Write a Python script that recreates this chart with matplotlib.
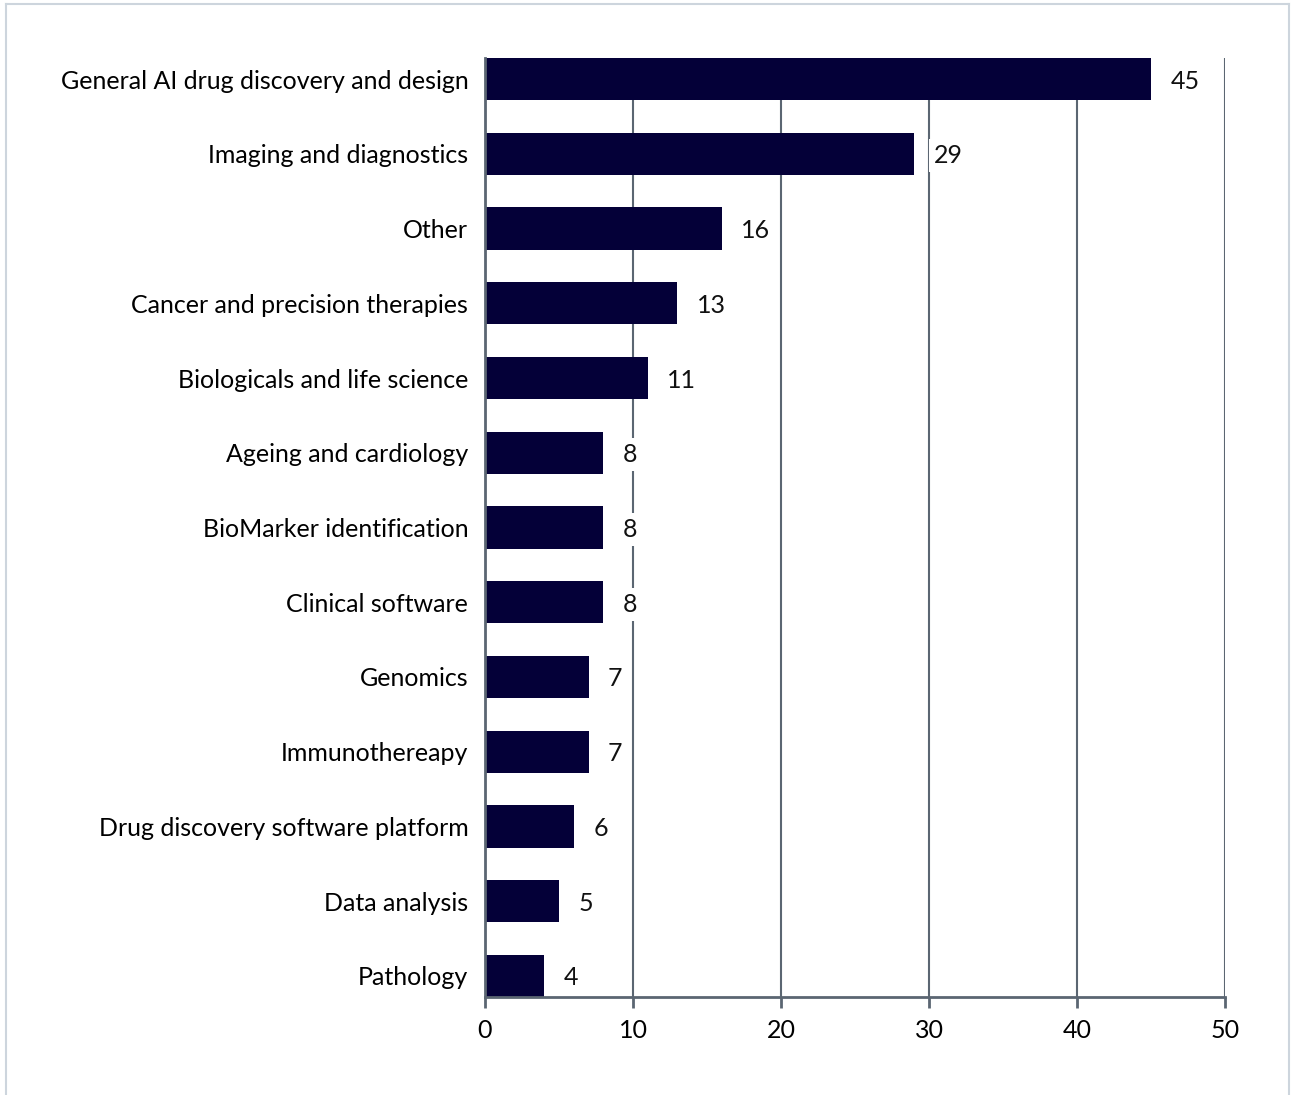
import matplotlib
matplotlib.use("Agg")
import matplotlib.pyplot as plt
from matplotlib.lines import Line2D

categories = [
    "General AI drug discovery and design",
    "Imaging and diagnostics",
    "Other",
    "Cancer and precision therapies",
    "Biologicals and life science",
    "Ageing and cardiology",
    "BioMarker identification",
    "Clinical software",
    "Genomics",
    "Immunothereapy",
    "Drug discovery software platform",
    "Data analysis",
    "Pathology",
]
values = [45, 29, 16, 13, 11, 8, 8, 8, 7, 7, 6, 5, 4]
xticks = [0, 10, 20, 30, 40, 50]

plt.rcParams['font.family'] = ['Lato', 'DejaVu Sans']

W, H = 1292, 1095
fig = plt.figure(figsize=(W / 100, H / 100), dpi=100)
ax = fig.add_axes([485 / W, 1 - 997 / H, (1225 - 485) / W, (997 - 58) / H])

bar_color = '#040038'
grid_color = '#5b6672'
bh = 0.562
ypos = list(range(len(categories)))
ax.barh(ypos, values, height=bh, color=bar_color, zorder=2)
ax.set_ylim(len(categories) - 1 + bh / 2, -bh / 2)
ax.set_xlim(0, 50)
ax.set_xticks(xticks)
ax.set_xticklabels([str(t) for t in xticks], fontsize=18)
ax.set_yticks(ypos)
ax.set_yticklabels(categories, fontsize=18)
ax.tick_params(axis='y', length=0, pad=12)
ax.tick_params(axis='x', length=8, width=2, color=grid_color, pad=8)
ax.xaxis.grid(True, color=grid_color, linewidth=1.5, zorder=1)
ax.set_axisbelow(True)
for s in ['top', 'right']:
    ax.spines[s].set_visible(False)
for s in ['left', 'bottom']:
    ax.spines[s].set_color(grid_color)
    ax.spines[s].set_linewidth(2)
    ax.spines[s].set_zorder(3)

for y, v in zip(ypos, values):
    ax.annotate(str(v), (v, y), xytext=(14, 0), textcoords='offset points',
                ha='left', va='center_baseline', fontsize=18, color='#111111', zorder=4,
                bbox=dict(boxstyle='square,pad=0.2', fc='white', ec='none'))

bc = '#cdd5dd'
fig.add_artist(Line2D([6 / W, 6 / W], [0, 1 - 4 / H], color=bc, lw=1.5, transform=fig.transFigure))
fig.add_artist(Line2D([6 / W, 1289 / W], [1 - 4 / H, 1 - 4 / H], color=bc, lw=1.5, transform=fig.transFigure))
fig.add_artist(Line2D([1289 / W, 1289 / W], [0, 1 - 4 / H], color=bc, lw=1.5, transform=fig.transFigure))

fig.savefig("out.png", dpi=100, facecolor='white')
